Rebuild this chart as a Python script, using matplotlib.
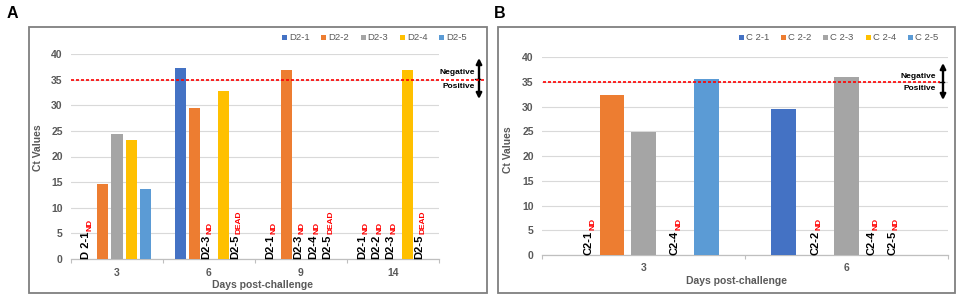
import matplotlib
matplotlib.use('Agg')
import matplotlib.pyplot as plt
import matplotlib.transforms as mtransforms
from matplotlib.patches import Rectangle, FancyArrowPatch
from matplotlib.lines import Line2D
import numpy as np

plt.rcParams['font.family'] = ['Liberation Sans', 'DejaVu Sans']

nan = np.nan
# ---------------- data: panel A ----------------
days_a = ['3', '6', '9', '14']
series_a = ['D2-1', 'D2-2', 'D2-3', 'D2-4', 'D2-5']
d2_1 = [nan, 37.2, nan, nan]
d2_2 = [14.6, 29.5, 36.9, nan]
d2_3 = [24.4, nan, nan, nan]
d2_4 = [23.2, 32.7, nan, 36.8]
d2_5 = [13.7, nan, nan, nan]
# (day index, series index, label, status)
missing_a = [(0, 0, 'D 2-1', 'ND'),
             (1, 2, 'D2-3', 'ND'), (1, 4, 'D2-5', 'DEAD'),
             (2, 0, 'D2-1', 'ND'), (2, 2, 'D2-3', 'ND'), (2, 3, 'D2-4', 'ND'), (2, 4, 'D2-5', 'DEAD'),
             (3, 0, 'D2-1', 'ND'), (3, 1, 'D2-2', 'ND'), (3, 2, 'D2-3', 'ND'), (3, 4, 'D2-5', 'DEAD')]

# ---------------- data: panel B ----------------
days_b = ['3', '6']
series_b = ['C 2-1', 'C 2-2', 'C 2-3', 'C 2-4', 'C 2-5']
c2_1 = [nan, 29.5]
c2_2 = [32.4, nan]
c2_3 = [24.8, 36.0]
c2_4 = [nan, nan]
c2_5 = [35.6, nan]
missing_b = [(0, 0, 'C2-1', 'ND'), (0, 3, 'C2-4', 'ND'),
             (1, 1, 'C2-2', 'ND'), (1, 3, 'C2-4', 'ND'), (1, 4, 'C2-5', 'ND')]

cutoff = 35
colors = ['#4472C4', '#ED7D31', '#A5A5A5', '#FFC000', '#5B9BD5']
GRAY = '#595959'

W, H = 957, 295
fig = plt.figure(figsize=(W / 100, H / 100), dpi=100)

def fx(x):
    return x / W

def fy(y):
    return 1 - y / H

def make_axes(l, r, t, b):
    return fig.add_axes([fx(l), fy(b), fx(r - l), (b - t) / H])

# frames
for (l, t, r, b) in [(29, 27, 487, 293), (498, 27, 955, 293)]:
    fig.add_artist(Rectangle((fx(l), fy(b)), fx(r - l), (b - t) / H, transform=fig.transFigure,
                             fill=False, edgecolor='#7F7F7F', lw=1.3))

panels = [
    dict(box=(71, 439, 54, 259), days=days_a, series=series_a, vals=[d2_1, d2_2, d2_3, d2_4, d2_5],
         missing=missing_a, nudges={}, base_nudge=-2.5, xpad=6.5, xlabel=(262, 285), ylabel=(38, 148),
         line_x=(71, 485), arrow_x=479, arrow_y=(58, 99), text_r=475, neg_y=73, pos_y=86,
         leg_x=282, leg_dx=39.3, leg_y=37, letter='A', letter_xy=(12.5, 14)),
    dict(box=(542, 948, 57, 255), days=days_b, series=series_b, vals=[c2_1, c2_2, c2_3, c2_4, c2_5],
         missing=missing_b, nudges={(0, 0): 8, (1, 3): -6, (1, 4): -17}, base_nudge=0, xpad=5.8,
         xlabel=(737, 281), ylabel=(508, 150),
         line_x=(543, 940), arrow_x=943, arrow_y=(63, 100), text_r=936, neg_y=77, pos_y=89,
         leg_x=739, leg_dx=42.2, leg_y=38, letter='B', letter_xy=(500, 13)),
]

step, bw = 0.155, 0.12
axes = []
for p in panels:
    ax = make_axes(*p['box'])
    axes.append(ax)
    n = len(p['days'])
    x = np.arange(n)
    for k, (vals, col) in enumerate(zip(p['vals'], colors)):
        ax.bar(x + (k - 2) * step, vals, width=bw, color=col, label=p['series'][k], zorder=3)
    ax.set_xlim(-0.5, n - 0.5)
    ax.set_ylim(0, 40)
    ax.set_yticks(np.arange(0, 41, 5))
    ax.set_xticks(x)
    ax.set_xticklabels(p['days'])
    ax.set_xticks(np.arange(-0.5, n, 1.0), minor=True)
    ax.tick_params(axis='x', which='major', length=0, pad=p['xpad'], labelsize=7.5, labelcolor=GRAY)
    ax.tick_params(axis='x', which='minor', length=3, color='#BFBFBF', width=0.8)
    ax.tick_params(axis='y', length=0, pad=6, labelsize=7.5, labelcolor=GRAY)
    for lab in ax.get_xticklabels() + ax.get_yticklabels():
        lab.set_fontweight('bold')
    for s in ['left', 'right', 'top']:
        ax.spines[s].set_visible(False)
    ax.spines['bottom'].set_color('#BFBFBF')
    ax.spines['bottom'].set_linewidth(0.9)
    ax.yaxis.grid(True, color='#D9D9D9', lw=0.8, zorder=0)
    ax.set_axisbelow(True)

    # axis titles
    fig.text(fx(p['xlabel'][0]), fy(p['xlabel'][1]), 'Days post-challenge', ha='center', va='center',
             fontsize=7.5, fontweight='bold', color=GRAY)
    fig.text(fx(p['ylabel'][0]), fy(p['ylabel'][1]), 'Ct Values', ha='center', va='center',
             rotation=90, fontsize=7.5, fontweight='bold', color=GRAY)

    # cutoff line
    blend = mtransforms.blended_transform_factory(fig.transFigure, ax.transData)
    fig.add_artist(Line2D([fx(p['line_x'][0]), fx(p['line_x'][1])], [cutoff, cutoff], transform=blend,
                          color='#FF0000', lw=1.2, dashes=(1.8, 1.2), zorder=5))

    # arrows
    axx = p['arrow_x']
    y0, y1 = p['arrow_y']
    ym = (y0 + y1) / 2
    for yy in (y0, y1):
        fig.add_artist(FancyArrowPatch((fx(axx), fy(ym)), (fx(axx), fy(yy)),
                       transform=fig.transFigure, arrowstyle='-|>', mutation_scale=8, lw=1.7,
                       color='black', shrinkA=0, shrinkB=0))
    fig.add_artist(Line2D([fx(axx - 4), fx(axx + 1)], [fy(ym), fy(ym)], transform=fig.transFigure,
                          color='black', lw=1))
    fig.text(fx(p['text_r']), fy(p['neg_y']), 'Negative', ha='right', va='center', fontsize=6,
             fontweight='bold', color='black')
    fig.text(fx(p['text_r']), fy(p['pos_y']), 'Positive', ha='right', va='center', fontsize=6,
             fontweight='bold', color='black')

    # legend (manual)
    for k, (name, col) in enumerate(zip(p['series'], colors)):
        lx = p['leg_x'] + k * p['leg_dx']
        fig.add_artist(Rectangle((fx(lx), fy(p['leg_y'] + 2.5)), fx(5), 5 / H, transform=fig.transFigure,
                                 facecolor=col, edgecolor='none'))
        fig.text(fx(lx + 7), fy(p['leg_y']), name, ha='left', va='center', fontsize=6.8, color=GRAY)

    fig.text(fx(p['letter_xy'][0]), fy(p['letter_xy'][1]), p['letter'], ha='center', va='center',
             fontsize=11.5, fontweight='bold', color='black')

# missing-sample labels
fig.canvas.draw()
renderer = fig.canvas.get_renderer()
for p, ax in zip(panels, axes):
    for (d, s, name, status) in p['missing']:
        nud = p['nudges'].get((d, s), p['base_nudge'])
        tr = mtransforms.offset_copy(ax.transData, fig=fig, x=nud, y=0, units='dots')
        t = ax.text(d + (s - 2) * step, 0, name, rotation=90, ha='center', va='bottom', fontsize=8,
                    fontweight='bold', color='black', transform=tr, zorder=6)
        bb = t.get_window_extent(renderer)
        xc = (bb.x0 + bb.x1) / 2 + 4
        ax.annotate(status, xy=(xc, bb.y1 + 0.5), xycoords='figure pixels', rotation=90, ha='center',
                    va='bottom', fontsize=6, fontweight='bold', color='#FF0000', annotation_clip=False)

fig.savefig('out.png', dpi=100)
